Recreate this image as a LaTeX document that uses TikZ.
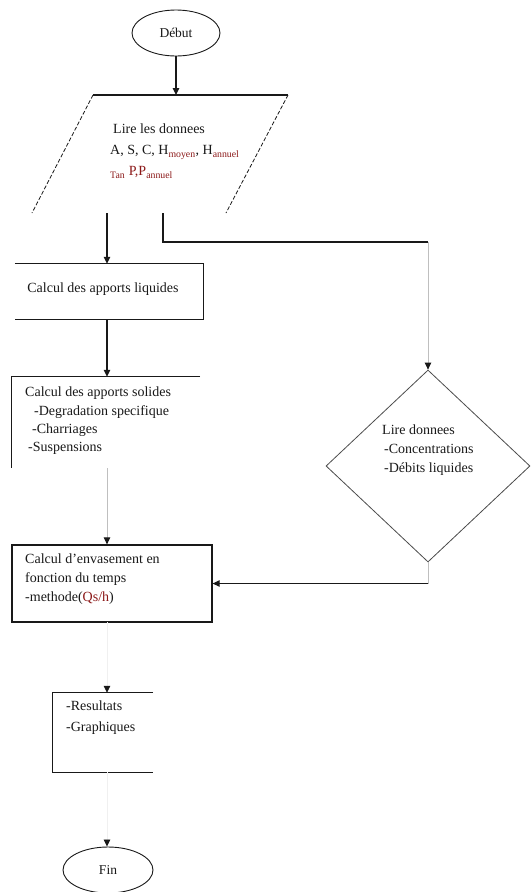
\documentclass[tikz,border=0pt]{standalone}
\usepackage{fontspec}
\setmainfont{Liberation Serif}
\usetikzlibrary{arrows.meta,shapes.geometric}
\definecolor{ink}{gray}{0.1}
\definecolor{redsub}{rgb}{0.55,0.1,0.1}
\begin{document}
\begin{tikzpicture}[x=1pt,y=-1pt,
  ink/.style={draw=ink,line width=1.05pt},
  arr/.style={ink,-{Triangle[length=7pt,width=6.5pt]}},
  faintarr/.style={draw=black!25,line width=0.8pt,-{Triangle[length=7pt,width=6.5pt,color=ink,fill=ink]}},
  txt/.style={inner sep=0pt,align=left,text=ink,font=\fontsize{14}{19}\selectfont},
  term/.style={ellipse,draw=ink,line width=0.9pt,inner sep=0pt,font=\fontsize{13.5}{15}\selectfont,text=ink},
  sidebox/.style={draw=none,inner sep=0pt}]
\useasboundingbox (0,0) rectangle (531,892);
\fill[white] (0,0) rectangle (531,892);

% Debut
\node[term,minimum width=88pt,minimum height=46pt] (debut) at (176,33) {Début};

% parallelogram (input)
\coordinate (ptl) at (93,95);
\coordinate (ptr) at (288,95);
\coordinate (pbl) at (32,213);
\coordinate (pbr) at (226,213);
\draw[ink] (ptl) -- (ptr);
\draw[ink,line width=0.8pt,dashed,dash pattern=on 4pt off 2pt] (ptl) -- (pbl);
\draw[ink,line width=0.8pt,dashed,dash pattern=on 4pt off 2pt] (ptr) -- (pbr);
\coordinate (ptop) at (176,95);
\draw[arr] (debut.south) -- (ptop);
\node[txt,anchor=north west,font=\fontsize{14}{21}\selectfont] (lire) at (110,124)
  {\hspace{3pt}Lire les donnees\\
   A, S, C, H\textsubscript{\textcolor{redsub}{moyen}}, H\textsubscript{\textcolor{redsub}{annuel}}\\
   \textcolor{redsub}{\textsubscript{Tan}\ P,P\textsubscript{annuel}}};

\coordinate (p1) at (107,213);
\coordinate (p2) at (163,213);
\coordinate (p3) at (163,242);
\coordinate (p4) at (428,242);

% Calcul des apports liquides
\node[sidebox,minimum width=188pt,minimum height=55pt] (liq) at (109,291.5) {};
\node[txt] (liqt) at (103,289) {Calcul des apports liquides};
\draw[ink,line width=1.2pt] (liq.north west) -- (liq.north east) -- (liq.south east) -- (liq.south west);
\draw[arr] (p1) -- (p1 |- liq.north);

% Calcul des apports solides
\node[sidebox,minimum width=188pt,minimum height=91pt] (sol) at (106,422.5) {};
\draw[ink,line width=1.2pt] (sol.north east) -- (sol.north west) -- (sol.south west);
\node[txt,anchor=north west,font=\fontsize{14}{18.3}\selectfont] (solt) at (25,387)
  {Calcul des apports solides\\
   \hspace{9pt}-Degradation specifique\\
   \hspace{7pt}-Charriages\\
   \hspace{3pt}-Suspensions};
\coordinate (s1) at (107,468);
\draw[arr] (p1 |- liq.south) -- (p1 |- sol.north);

% Diamond
\node[diamond,draw=black!70,line width=0.8pt,minimum width=204pt,minimum height=192pt,inner sep=0pt] (dia) at (428,466) {};
\node[txt,anchor=north west] (diat) at (382,425)
  {Lire donnees\\
   \hspace{2pt}-Concentrations\\
   \hspace{2pt}-Débits liquides};
\draw[ink] (p2) -- (p3) -- (p4);
\draw[faintarr] (p4) -- (dia.north);

% Calcul d'envasement
\node[draw=ink,line width=1.3pt,minimum width=200pt,minimum height=77pt,inner sep=0pt] (env) at (112,583.5) {};
\node[txt,anchor=north west] (envt) at (25,554)
  {Calcul d'envasement en\\
   fonction du temps\\
   -methode(\textcolor{redsub}{Qs/h})};
\draw[faintarr] (s1) -- (s1 |- env.north);
\coordinate (c3) at (428,583.5);
\draw[draw=black!25,line width=0.8pt] (dia.south) -- (c3);
\draw[arr] (c3) -- (env.east);

% Resultats
\node[sidebox,minimum width=100pt,minimum height=79pt] (res) at (103,732.5) {};
\draw[ink,line width=1.2pt] (res.north east) -- (res.north west) -- (res.south west) -- (res.south east);
\node[txt,anchor=north west,font=\fontsize{14}{21}\selectfont] (rest) at (66,701)
  {-Resultats\\ -Graphiques};
\coordinate (e1) at (107,622);
\draw[draw=black!6,line width=0.8pt,-{Triangle[length=7pt,width=6.5pt,color=ink,fill=ink]}] (e1) -- (e1 |- res.north);

% Fin
\node[term,minimum width=90pt,minimum height=46pt] (fin) at (108,870) {Fin};
\coordinate (r1) at (107,772);
\draw[draw=black!6,line width=0.8pt,-{Triangle[length=7pt,width=6.5pt,color=ink,fill=ink]}] (r1) -- (r1 |- fin.north);
\end{tikzpicture}
\end{document}
